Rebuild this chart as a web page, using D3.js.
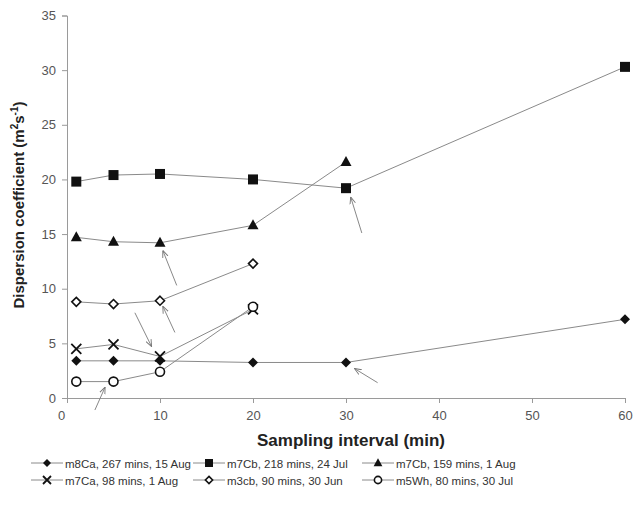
<!DOCTYPE html>
<html><head><meta charset="utf-8">
<script src="https://cdn.jsdelivr.net/npm/d3@7"></script>
<style>
body{margin:0;background:#fff;}
text{font-family:"Liberation Sans",Arial,sans-serif;}
</style></head>
<body><svg id="c" width="634" height="508"></svg>
<script>
// ---- data ----
const intervals = [1, 5, 10, 20, 30, 60];
const seriesNames = [
  "m8Ca, 267 mins, 15 Aug",
  "m7Cb, 218 mins, 24 Jul",
  "m7Cb, 159 mins, 1 Aug",
  "m7Ca, 98 mins, 1 Aug",
  "m3cb, 90 mins, 30 Jun",
  "m5Wh, 80 mins, 30 Jul"
];
const m8Ca_15Aug = [3.4, 3.4, 3.4, 3.25, 3.25, 7.2];
const m7Cb_24Jul = [19.8, 20.4, 20.5, 20.0, 19.2, 30.3];
const m7Cb_1Aug  = [14.7, 14.3, 14.2, 15.8, 21.6];
const m7Ca_1Aug  = [4.5, 4.9, 3.8, 8.1];
const m3cb_30Jun = [8.8, 8.6, 8.9, 12.3];
const m5Wh_30Jul = [1.5, 1.5, 2.4, 8.35];
const xTicks = [0, 10, 20, 30, 40, 50, 60];
const yTicks = [0, 5, 10, 15, 20, 25, 30, 35];
// annotation arrows: [fromX, fromY, toX, toY] in data units
const arrows = [
  [11.8, 10.3, 10.3, 13.5],
  [11.6, 6.0, 10.3, 8.4],
  [7.3, 7.8, 9.1, 4.7],
  [3.0, -1.1, 4.1, 1.0],
  [31.7, 15.1, 30.5, 18.4],
  [33.4, 1.4, 30.9, 2.7]
];

const allValues = [m8Ca_15Aug, m7Cb_24Jul, m7Cb_1Aug, m7Ca_1Aug, m3cb_30Jun, m5Wh_30Jul];
const markers = ["diamondFill", "square", "triangle", "cross", "diamondOpen", "circleOpen"];

const svg = d3.select("#c");
const x = d3.scaleLinear().domain([0, 60]).range([67, 625]);
const y = d3.scaleLinear().domain([0, 35]).range([398, 15.5]);

const axisCol = "#9a9a9a";
const lineCol = "#8a8a8a";

// axes
const xa = svg.append("g").attr("transform", `translate(0,${y(0)})`)
  .call(d3.axisBottom(x).tickValues(xTicks).tickSize(5).tickPadding(8));
const ya = svg.append("g").attr("transform", `translate(${x(0)},0)`)
  .call(d3.axisLeft(y).tickValues(yTicks).tickSize(5).tickPadding(6));
[xa, ya].forEach(g => {
  g.selectAll("path").attr("stroke", axisCol);
  g.selectAll("line").attr("stroke", axisCol);
  g.selectAll("text").attr("fill", "#555").attr("font-size", 13)
    .attr("font-family", "'Liberation Sans',Arial,sans-serif");
});
xa.selectAll(".tick").filter(d => d === 0).select("text").attr("dx", -6);

// titles
svg.append("text").attr("x", 351).attr("y", 446).attr("text-anchor", "middle")
  .attr("font-weight", "bold").attr("font-size", 17).attr("fill", "#222")
  .text("Sampling interval (min)");
const yt = svg.append("text").attr("transform", "translate(24,205) rotate(-90)")
  .attr("text-anchor", "middle").attr("font-weight", "bold").attr("font-size", 15).attr("fill", "#222");
yt.append("tspan").text("Dispersion coefficient (m");
yt.append("tspan").attr("font-size", 10).attr("dy", -6).text("2");
yt.append("tspan").attr("dy", 6).text("s");
yt.append("tspan").attr("font-size", 10).attr("dy", -6).text("-1");
yt.append("tspan").attr("dy", 6).text(")");

// marker drawer
function drawMarker(g, type, cx, cy, k = 1) {
  if (type === "square") {
    g.append("rect").attr("x", cx - 5 * k).attr("y", cy - 5 * k).attr("width", 10 * k).attr("height", 10 * k).attr("fill", "#111");
  } else if (type === "triangle") {
    g.append("path").attr("d", `M${cx},${cy - 6 * k}L${cx + 5.5 * k},${cy + 4 * k}L${cx - 5.5 * k},${cy + 4 * k}Z`).attr("fill", "#111");
  } else if (type === "diamondFill") {
    g.append("path").attr("d", `M${cx},${cy - 5 * k}L${cx + 5 * k},${cy}L${cx},${cy + 5 * k}L${cx - 5 * k},${cy}Z`).attr("fill", "#111");
  } else if (type === "diamondOpen") {
    g.append("path").attr("d", `M${cx},${cy - 4.5 * k}L${cx + 4.5 * k},${cy}L${cx},${cy + 4.5 * k}L${cx - 4.5 * k},${cy}Z`)
      .attr("fill", "#fff").attr("stroke", "#111").attr("stroke-width", 1.6);
  } else if (type === "cross") {
    g.append("path").attr("d", `M${cx - 5 * k},${cy - 5 * k}L${cx + 5 * k},${cy + 5 * k}M${cx - 5 * k},${cy + 5 * k}L${cx + 5 * k},${cy - 5 * k}`)
      .attr("stroke", "#111").attr("stroke-width", 1.8);
  } else if (type === "circleOpen") {
    g.append("circle").attr("cx", cx).attr("cy", cy).attr("r", 4.5 * k)
      .attr("fill", "#fff").attr("stroke", "#111").attr("stroke-width", 1.6);
  }
}

// lines
const line = d3.line().x(d => x(d[0])).y(d => y(d[1]));
allValues.forEach(vals => {
  const pts = vals.map((v, i) => [intervals[i], v]);
  svg.append("path").attr("d", line(pts)).attr("fill", "none").attr("stroke", lineCol).attr("stroke-width", 1);
});
// markers
allValues.forEach((vals, si) => {
  const g = svg.append("g");
  vals.forEach((v, i) => drawMarker(g, markers[si], x(intervals[i]), y(v)));
});

// arrows
svg.append("defs").append("marker").attr("id", "ah").attr("viewBox", "0 0 10 10")
  .attr("refX", 10).attr("refY", 5).attr("markerWidth", 7).attr("markerHeight", 7)
  .attr("markerUnits", "userSpaceOnUse").attr("orient", "auto")
  .append("path").attr("d", "M0,1L10,5L0,9").attr("fill", "none").attr("stroke", "#777").attr("stroke-width", 1.3);
arrows.forEach(a => {
  svg.append("line").attr("x1", x(a[0])).attr("y1", y(a[1])).attr("x2", x(a[2])).attr("y2", y(a[3]))
    .attr("stroke", "#888").attr("stroke-width", 1).attr("marker-end", "url(#ah)");
});

// legend
const legCols = [31, 193, 362];
const legRows = [463, 480];
seriesNames.forEach((name, i) => {
  const lx = legCols[i % 3], ly = legRows[Math.floor(i / 3)];
  const g = svg.append("g");
  g.append("line").attr("x1", lx).attr("x2", lx + 32).attr("y1", ly).attr("y2", ly)
    .attr("stroke", lineCol).attr("stroke-width", 1);
  drawMarker(g, markers[i], lx + 16, ly, 0.8);
  g.append("text").attr("x", lx + 34).attr("y", ly + 4.5).attr("font-size", 11.5).attr("fill", "#333").text(name);
});
</script></body></html>
